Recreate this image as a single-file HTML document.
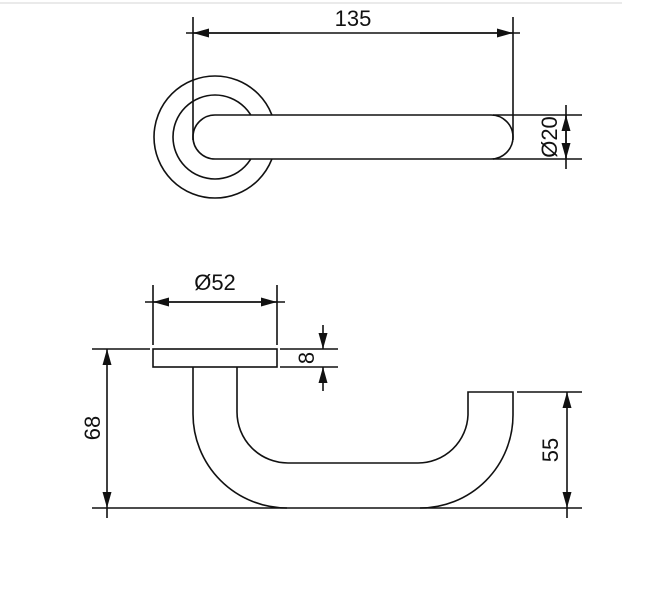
<!DOCTYPE html>
<html><head><style>html,body{margin:0;padding:0;background:#fff}svg{display:block}text{font-family:"Liberation Sans",sans-serif;font-size:22px;fill:#111}</style></head><body>
<svg width="664" height="612" viewBox="0 0 664 612" xmlns="http://www.w3.org/2000/svg">
<defs><marker id="a" viewBox="0 0 16 9" refX="16" refY="4.5" markerWidth="16" markerHeight="9" markerUnits="userSpaceOnUse" orient="auto"><path d="M0,0L16,4.5L0,9z" fill="#111"/></marker></defs>
<line x1="0" y1="3" x2="622" y2="3" stroke="#e4e4e4" stroke-width="1.5"/>
<g stroke="#111" stroke-width="1.6" fill="none">
<circle cx="215" cy="137" r="61"/>
<circle cx="215" cy="137" r="42"/>
<rect x="193" y="115" width="320" height="44" rx="22" fill="#fff"/>
<line x1="193" y1="17" x2="193" y2="140"/>
<line x1="513" y1="17" x2="513" y2="140"/>
<line x1="186" y1="33" x2="520" y2="33"/>
<line x1="280" y1="33" x2="193" y2="33" marker-end="url(#a)"/>
<line x1="420" y1="33" x2="513" y2="33" marker-end="url(#a)"/>
<line x1="493" y1="115" x2="582" y2="115"/>
<line x1="493" y1="159" x2="582" y2="159"/>
<line x1="566" y1="105" x2="566" y2="169"/>
<line x1="566" y1="137" x2="566" y2="115" marker-end="url(#a)"/>
<line x1="566" y1="137" x2="566" y2="159" marker-end="url(#a)"/>
<rect x="153" y="349" width="124" height="18"/>
<line x1="153" y1="285" x2="153" y2="345"/>
<line x1="277" y1="285" x2="277" y2="345"/>
<line x1="145" y1="302" x2="285" y2="302"/>
<line x1="215" y1="302" x2="153" y2="302" marker-end="url(#a)"/>
<line x1="215" y1="302" x2="277" y2="302" marker-end="url(#a)"/>
<line x1="92" y1="349" x2="150" y2="349"/>
<line x1="280" y1="349" x2="338" y2="349"/>
<line x1="280" y1="367" x2="338" y2="367"/>
<line x1="323" y1="325" x2="323" y2="349" marker-end="url(#a)"/>
<line x1="323" y1="391" x2="323" y2="367" marker-end="url(#a)"/>
<line x1="107" y1="428" x2="107" y2="349" marker-end="url(#a)"/>
<line x1="107" y1="428" x2="107" y2="508" marker-end="url(#a)"/>
<line x1="107" y1="508" x2="107" y2="518"/>
<line x1="92" y1="508" x2="582" y2="508"/>
<path d="M193,367 V414 A94,94 0 0 0 287,508"/>
<path d="M420,508 A93,93 0 0 0 513,415 V392 H468 V415 A50,50 0 0 1 418,463 H288 A51,51 0 0 1 237,412 V367"/>
<line x1="517" y1="392" x2="582" y2="392"/>
<line x1="567" y1="450" x2="567" y2="392" marker-end="url(#a)"/>
<line x1="567" y1="450" x2="567" y2="508" marker-end="url(#a)"/>
<line x1="567" y1="508" x2="567" y2="518"/>
</g>
<text x="353" y="26" text-anchor="middle">135</text>
<text transform="translate(557,137) rotate(-90)" text-anchor="middle">Ø20</text>
<text x="215" y="290" text-anchor="middle">Ø52</text>
<text transform="translate(314,358) rotate(-90)" text-anchor="middle">8</text>
<text transform="translate(100,428) rotate(-90)" text-anchor="middle">68</text>
<text transform="translate(558,450) rotate(-90)" text-anchor="middle">55</text>
</svg>
</body></html>
